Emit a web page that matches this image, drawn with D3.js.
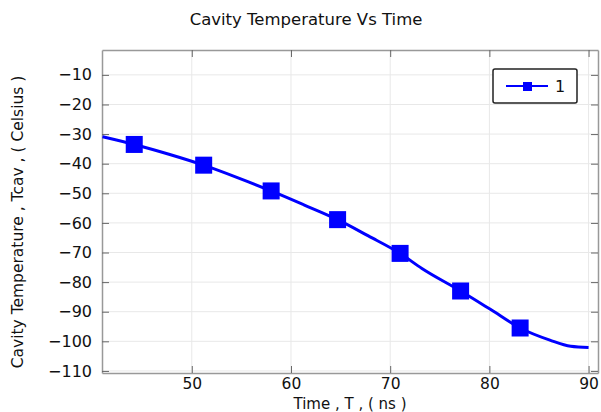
<!DOCTYPE html>
<html>
<head>
<meta charset="utf-8">
<script src="https://cdn.jsdelivr.net/npm/d3@7"></script>
<style>
  body { margin: 0; background: #fff; }
  text { font-family: "DejaVu Sans", sans-serif; fill: #111; }
</style>
</head>
<body>
<div id="chart"></div>
<script>
// curve (time in ns, temperature in Celsius)
var lineTime = [41, 44.2, 47.7, 51.2, 54.6, 58.0, 61.3, 64.7, 67.8, 71.0, 73.2, 77.1, 80.1, 83.1, 86.1, 88.2, 90];
var lineTemp = [-30.9, -33.5, -36.8, -40.5, -44.7, -49.2, -53.9, -58.9, -64.4, -70.3, -75.4, -83.0, -89.2, -95.5, -99.6, -101.7, -102.1];
// marker positions
var markTime = [44.2, 51.2, 58.0, 64.7, 71.0, 77.1, 83.1];
var markTemp = [-33.5, -40.5, -49.2, -58.9, -70.3, -83.0, -95.5];
var xTicks = [50, 60, 70, 80, 90];
var yTicks = [-10, -20, -30, -40, -50, -60, -70, -80, -90, -100, -110];
var seriesName = "1";

function init() {
    var w = 601, h = 412;
    var margin = { top: 50, right: 3, bottom: 39, left: 102 };
    var iw = w - margin.left - margin.right;
    var ih = h - margin.top - margin.bottom;

    var svg = d3.select("#chart").append("svg")
        .attr("width", w)
        .attr("height", h);

    svg.append("text")
        .attr("x", 306)
        .attr("y", 25)
        .attr("text-anchor", "middle")
        .style("font-size", "16.5px")
        .text("Cavity Temperature Vs Time");

    var g = svg.append("g")
        .attr("transform", "translate(" + margin.left + "," + margin.top + ")");

    var x = d3.scaleLinear().domain([40.95, 90.95]).range([0, iw]);
    var y = d3.scaleLinear().domain([-110.7, -1.6]).range([ih, 0]);

    // grid
    g.selectAll(".gx").data(xTicks).enter().append("line")
        .attr("x1", function(d) { return x(d); })
        .attr("x2", function(d) { return x(d); })
        .attr("y1", 0).attr("y2", ih)
        .attr("stroke", "#e8e8e8");
    g.selectAll(".gy").data(yTicks).enter().append("line")
        .attr("y1", function(d) { return y(d); })
        .attr("y2", function(d) { return y(d); })
        .attr("x1", 0).attr("x2", iw)
        .attr("stroke", "#e8e8e8");

    // axes with inward ticks
    var axisColor = "#999";
    var bottom = g.append("g").attr("transform", "translate(0," + ih + ")")
        .call(d3.axisBottom(x).tickValues(xTicks).tickSizeInner(-7).tickSizeOuter(0).tickPadding(5));
    var top = g.append("g")
        .call(d3.axisTop(x).tickValues(xTicks).tickSizeInner(-7).tickSizeOuter(0).tickFormat(""));
    var left = g.append("g")
        .call(d3.axisLeft(y).tickValues(yTicks).tickSizeInner(-7).tickSizeOuter(0).tickPadding(10));
    var right = g.append("g").attr("transform", "translate(" + iw + ",0)")
        .call(d3.axisRight(y).tickValues(yTicks).tickSizeInner(-7).tickSizeOuter(0).tickFormat(""));

    [bottom, top, left, right].forEach(function(a) {
        a.select(".domain").attr("stroke", axisColor).attr("stroke-width", 1.5);
        a.selectAll(".tick line").attr("stroke", "#666");
        a.selectAll("text").style("font-size", "16px").attr("fill", "#111");
    });
    bottom.selectAll("text").style("font-size", "15.5px");

    // curve
    var pts = lineTime.map(function(t, i) { return [t, lineTemp[i]]; });
    var line = d3.line()
        .x(function(d) { return x(d[0]); })
        .y(function(d) { return y(d[1]); })
        .curve(d3.curveMonotoneX);
    g.append("path")
        .datum(pts)
        .attr("d", line)
        .attr("fill", "none")
        .attr("stroke", "#0000ff")
        .attr("stroke-width", 3);

    var ms = 17;
    g.selectAll(".mark").data(markTime).enter().append("rect")
        .attr("x", function(d) { return x(d) - ms / 2; })
        .attr("y", function(d, i) { return y(markTemp[i]) - ms / 2; })
        .attr("width", ms)
        .attr("height", ms)
        .attr("fill", "#0000ff");

    // axis labels
    svg.append("text")
        .attr("x", 350)
        .attr("y", 408.5)
        .attr("text-anchor", "middle")
        .style("font-size", "15px")
        .text("Time , T , ( ns )");

    svg.append("text")
        .attr("transform", "translate(23,222) rotate(-90)")
        .attr("text-anchor", "middle")
        .style("font-size", "15.5px")
        .text("Cavity Temperature , Tcav  , ( Celsius )");

    // legend
    var lg = svg.append("g").attr("transform", "translate(493,69)");
    lg.append("rect")
        .attr("width", 84).attr("height", 34)
        .attr("rx", 2)
        .attr("fill", "#fff")
        .attr("stroke", "#222")
        .attr("stroke-width", 1.5);
    lg.append("line")
        .attr("x1", 13).attr("x2", 55)
        .attr("y1", 17).attr("y2", 17)
        .attr("stroke", "#0000ff").attr("stroke-width", 2);
    lg.append("rect")
        .attr("x", 30).attr("y", 13)
        .attr("width", 9).attr("height", 9)
        .attr("fill", "#0000ff");
    lg.append("text")
        .attr("x", 62).attr("y", 23)
        .style("font-size", "16px")
        .text(seriesName);
}

window.onload = init;
</script>
</body>
</html>
